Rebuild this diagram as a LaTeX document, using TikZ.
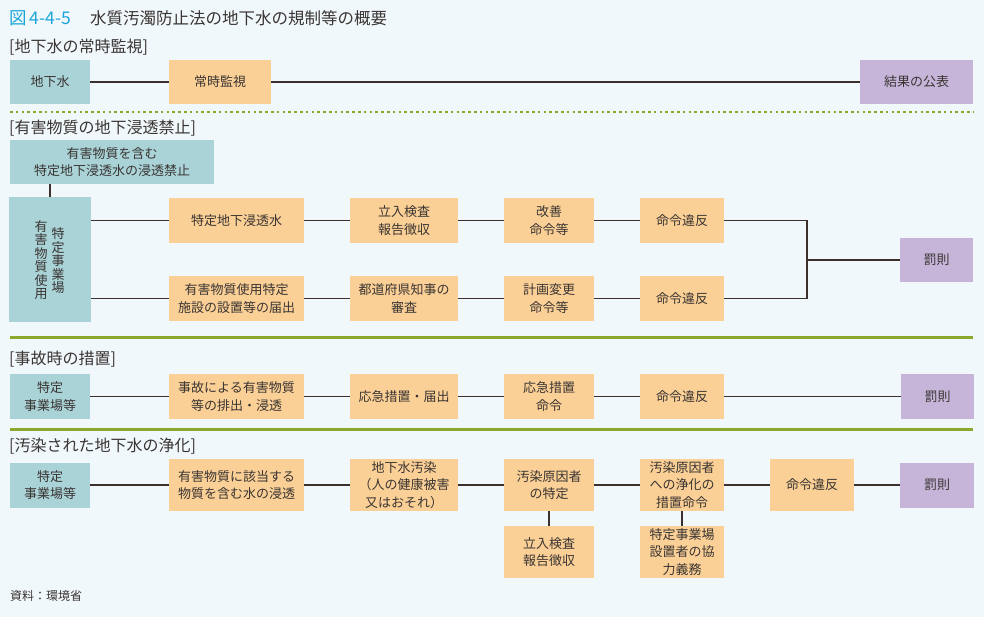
\documentclass[tikz,border=0pt]{standalone}
\usepackage{fontspec}
\setmainfont{Noto Sans CJK JP}
\definecolor{bg}{HTML}{F1F8FC}
\definecolor{cteal}{HTML}{AAD3D7}
\definecolor{corange}{HTML}{FBD096}
\definecolor{cpurple}{HTML}{C6B5D9}
\definecolor{cline}{HTML}{3B302C}
\definecolor{cgreen}{HTML}{8BA82C}
\definecolor{ctitle}{HTML}{1BA6DA}
\definecolor{ctext}{HTML}{3A3533}
\tikzset{
  box/.style={inner sep=0pt, align=center, font=\fontsize{13}{17.5}\selectfont, text=ctext},
  tealbox/.style={box, fill=cteal},
  orbox/.style={box, fill=corange},
  pubox/.style={box, fill=cpurple},
  conn/.style={draw=cline, line width=1.7pt},
  sect/.style={anchor=west, inner sep=0pt, font=\fontsize{16}{18}\selectfont, text=ctext},
  sep/.style={draw=cgreen, line width=3pt},
}
\newcommand\bx[7]{\node[#6, minimum width={(#4-#2)*1pt}, minimum height={(#5-#3)*1pt}] (#1) at ({(#2+#4)/2},{(#3+#5)/2}) {#7};}
\begin{document}
\begin{tikzpicture}[x=1pt,y=-1pt]
\useasboundingbox[fill=bg] (0,0) rectangle (984,617);
% title
\node[anchor=west, inner sep=0pt, font=\fontsize{17.5}{19}\selectfont, text=ctitle] (fig) at (9,18) {図\,4-4-5};
\node[anchor=west, inner sep=0pt, font=\fontsize{16.5}{18}\selectfont, text=ctext] (title) at (90,18) {水質汚濁防止法の地下水の規制等の概要};
% section 1
\node[sect] (s1) at (9,47) {[地下水の常時監視]};
\bx{g1}{10}{60}{90}{104}{tealbox}{地下水}
\bx{g2}{169}{60}{271}{104}{orbox}{常時監視}
\bx{g3}{860}{60}{973}{104}{pubox}{結果の公表}
\draw[conn] (g1) -- (g2);
\draw[conn] (g2) -- (g3);
\draw[cgreen, line width=2.6pt, dash pattern=on 2.6pt off 3.2pt] (10,112) -- (973,112);
% section 2
\node[sect] (s2) at (9,128) {[有害物質の地下浸透禁止]};
\bx{T}{10}{140}{214}{184}{tealbox}{有害物質を含む\\特定地下浸透水の浸透禁止}
\bx{V}{9}{197}{91}{322}{tealbox}{}
\node[box, font=\fontsize{13}{13.5}\selectfont] (vl) at (41,260) {有\\害\\物\\質\\使\\用};
\node[box, font=\fontsize{13}{13.5}\selectfont] (vr) at (58,261) {特\\定\\事\\業\\場};
\draw[conn] ([xshift=40pt]T.south west) -- ([xshift=41pt]V.north west);
\bx{A1}{169}{198}{304}{243}{orbox}{特定地下浸透水}
\bx{A2}{350}{198}{458}{243}{orbox}{立入検査\\報告徴収}
\bx{A3}{504}{198}{594}{243}{orbox}{改善\\命令等}
\bx{A4}{640}{198}{724}{243}{orbox}{命令違反}
\bx{B1}{169}{276}{304}{321}{orbox}{有害物質使用特定\\施設の設置等の届出}
\bx{B2}{350}{276}{458}{321}{orbox}{都道府県知事の\\審査}
\bx{B3}{504}{276}{594}{321}{orbox}{計画変更\\命令等}
\bx{B4}{640}{276}{724}{321}{orbox}{命令違反}
\bx{P1}{900}{238}{973}{282}{pubox}{罰則}
\draw[conn] (V.east |- A1.west) -- (A1.west);
\draw[conn] (V.east |- B1.west) -- (B1.west);
\draw[conn] (A1) -- (A2);
\draw[conn] (A2) -- (A3);
\draw[conn] (A3) -- (A4);
\draw[conn] (B1) -- (B2);
\draw[conn] (B2) -- (B3);
\draw[conn] (B3) -- (B4);
\coordinate (jt) at (807,220.5);
\coordinate (jb) at (807,298.5);
\coordinate (jm) at (807,260);
\draw[conn, line join=miter] (A4.east) -- (jt) -- (jb) -- (B4.east);
\draw[conn] (jm) -- (P1.west);
\draw[sep] (10,337) -- (973,337);
% section 3
\node[sect] (s3) at (9,359) {[事故時の措置]};
\bx{C1}{10}{374}{90}{419}{tealbox}{特定\\事業場等}
\bx{C2}{169}{374}{304}{419}{orbox}{事故による有害物質\\等の排出・浸透}
\bx{C3}{350}{374}{458}{419}{orbox}{応急措置・届出}
\bx{C4}{504}{374}{594}{419}{orbox}{応急措置\\命令}
\bx{C5}{640}{374}{724}{419}{orbox}{命令違反}
\bx{P2}{901}{374}{974}{419}{pubox}{罰則}
\draw[conn] (C1) -- (C2);
\draw[conn] (C2) -- (C3);
\draw[conn] (C3) -- (C4);
\draw[conn] (C4) -- (C5);
\draw[conn] (C5) -- (P2);
\draw[sep] (10,429) -- (973,429);
% section 4
\node[sect] (s4) at (9,446) {[汚染された地下水の浄化]};
\bx{D1}{10}{462.5}{90}{507.5}{tealbox}{特定\\事業場等}
\bx{D2}{169}{459}{304}{511}{orbox}{有害物質に該当する\\物質を含む水の浸透}
\bx{D3}{350}{459}{458}{511}{orbox}{地下水汚染\\（人の健康被害\\又はおそれ）}
\bx{D4}{504}{459}{594}{511}{orbox}{汚染原因者\\の特定}
\bx{D5}{640}{459}{724}{511}{orbox}{汚染原因者\\への浄化の\\措置命令}
\bx{D6}{770}{459}{854}{511}{orbox}{命令違反}
\bx{P3}{900}{462.5}{974}{507.5}{pubox}{罰則}
\bx{E1}{504}{526}{594}{578}{orbox}{立入検査\\報告徴収}
\bx{E2}{640}{526}{724}{578}{orbox}{特定事業場\\設置者の協\\力義務}
\draw[conn] (D1) -- (D2);
\draw[conn] (D2) -- (D3);
\draw[conn] (D3) -- (D4);
\draw[conn] (D4) -- (D5);
\draw[conn] (D5) -- (D6);
\draw[conn] (D6) -- (P3);
\draw[conn] (D4.south) -- (E1.north);
\draw[conn] (D5.south) -- (E2.north);
% source
\node[anchor=west, inner sep=0pt, font=\fontsize{12}{14}\selectfont, text=ctext] (src) at (10,596) {資料：環境省};
\end{tikzpicture}
\end{document}
